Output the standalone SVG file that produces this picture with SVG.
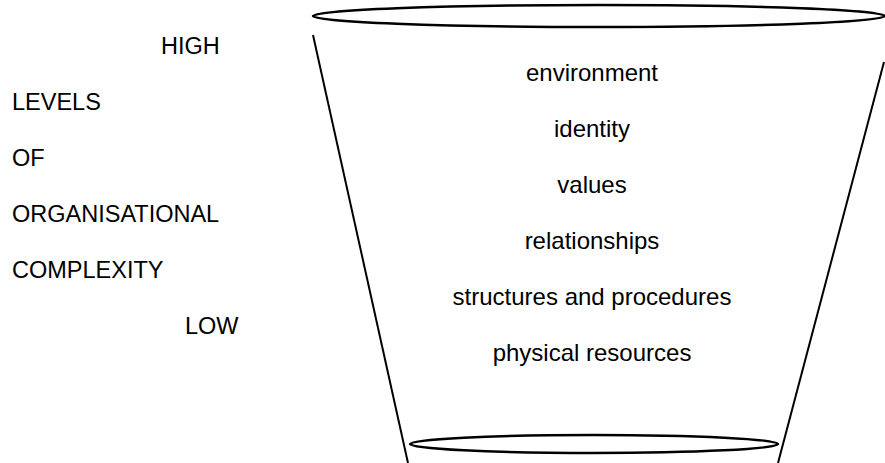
<svg xmlns="http://www.w3.org/2000/svg" width="885" height="463" viewBox="0 0 885 463">
  <style>
    text { font-family: "Liberation Sans", Arial, sans-serif; font-size: 24px; fill: #000; }
    .mid { text-anchor: middle; }
    .scale text { font-size: 23.5px; }
    .rim { fill: none; stroke: #000; stroke-width: 2.5; }
    .side { fill: none; stroke: #000; stroke-width: 2; }
  </style>
  <rect width="885" height="463" fill="#fff"/>

  <!-- funnel outline -->
  <g id="funnel">
    <ellipse class="rim" cx="599" cy="16" rx="286" ry="11"/>
    <ellipse class="rim" cx="594" cy="444" rx="184" ry="9"/>
    <line class="side" x1="313" y1="35" x2="408" y2="463"/>
    <line class="side" x1="884" y1="62" x2="778" y2="463"/>
  </g>

  <!-- scale labels on the left -->
  <g id="scale" class="scale">
    <text x="161" y="54">HIGH</text>
    <text x="12" y="110">LEVELS</text>
    <text x="12" y="166">OF</text>
    <text x="12" y="222">ORGANISATIONAL</text>
    <text x="12" y="278">COMPLEXITY</text>
    <text x="185" y="334">LOW</text>
  </g>

  <!-- levels inside the funnel -->
  <g id="levels">
    <text class="mid" x="592" y="81">environment</text>
    <text class="mid" x="592" y="137">identity</text>
    <text class="mid" x="592" y="193">values</text>
    <text class="mid" x="592" y="249">relationships</text>
    <text class="mid" x="592" y="305">structures and procedures</text>
    <text class="mid" x="592" y="361">physical resources</text>
  </g>
</svg>
